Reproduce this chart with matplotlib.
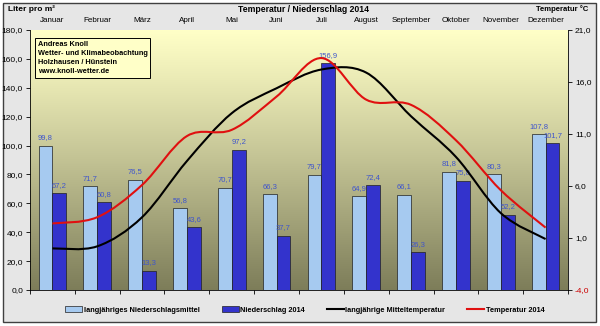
import numpy as np
import matplotlib
matplotlib.use('Agg')
import matplotlib.pyplot as plt
from matplotlib.path import Path
from matplotlib.patches import PathPatch, Rectangle, Patch
from matplotlib.lines import Line2D
from matplotlib.ticker import FuncFormatter
import matplotlib.transforms as mtransforms

plt.rcParams['font.family'] = ['Liberation Sans', 'DejaVu Sans']

months = ["Januar", "Februar", "März", "April", "Mai", "Juni", "Juli",
          "August", "September", "Oktober", "November", "Dezember"]
rain_mean = [99.8, 71.7, 76.5, 56.8, 70.7, 66.3, 79.7, 64.9, 66.1, 81.8, 80.3, 107.8]
rain_2014 = [67.2, 60.8, 13.3, 43.6, 97.2, 37.7, 156.9, 72.4, 26.3, 75.8, 52.2, 101.7]
temp_mean = [0.0, 0.2, 3.0, 8.4, 13.0, 15.4, 17.2, 16.9, 12.7, 8.8, 3.4, 0.9]
temp_2014 = [2.4, 3.0, 6.1, 10.8, 11.4, 14.6, 18.3, 14.3, 13.8, 10.4, 5.6, 2.0]

light_blue = '#a6caf0'
dark_blue = '#3333cc'
label_blue = '#3f55cc'


def smooth_path(xs, ys):
    # excel-style smoothed line: catmull-rom segments as cubic beziers
    pts = np.column_stack([xs, ys]).astype(float)
    n = len(pts)
    verts = [pts[0]]
    codes = [Path.MOVETO]
    for i in range(n - 1):
        p0 = pts[i - 1] if i > 0 else pts[i]
        p1 = pts[i]
        p2 = pts[i + 1]
        p3 = pts[i + 2] if i + 2 < n else pts[i + 1]
        verts += [p1 + (p2 - p0) / 6, p2 - (p3 - p1) / 6, p2]
        codes += [Path.CURVE4] * 3
    return Path(verts, codes)


fig = plt.figure(figsize=(6, 3.26), dpi=100)
fig.patch.set_facecolor('white')
fig.patches.append(Rectangle((3 / 600, 4 / 326), 593 / 600, 319 / 326,
                             transform=fig.transFigure, facecolor='#e6e6e6',
                             edgecolor='#404040', linewidth=1.0, zorder=-10))

ax = fig.add_axes([30 / 600, 36 / 326, 538 / 600, 260 / 326])
ax.patch.set_visible(False)
x = np.arange(len(months))
ax.set_xlim(-0.5, 11.5)
ax.set_ylim(0, 180)

# plot area gradient, light yellow to olive
grad = np.linspace(0, 1, 256).reshape(-1, 1)
top = np.array([1.0, 1.0, 0.78])
bottom = np.array([0.49, 0.49, 0.35])
img = top + (bottom - top) * grad[..., None] ** 1.1
img = img.reshape(256, 1, 3)
ax.imshow(img, extent=[-0.5, 11.5, 0, 180], aspect='auto', zorder=0)

w = 0.31
ax.bar(x - w / 2, rain_mean, w, color=light_blue, edgecolor='#202020',
       linewidth=0.5, zorder=2)
ax.bar(x + w / 2, rain_2014, w, color=dark_blue, edgecolor='#202020',
       linewidth=0.5, zorder=2)
for xi, v in zip(x - w / 2, rain_mean):
    ax.text(xi, v + 3, f"{v:.1f}".replace('.', ','), ha='center', va='bottom',
            fontsize=5.5, color=label_blue, zorder=5)
for xi, v in zip(x + w / 2, rain_2014):
    ax.text(xi, v + 3, f"{v:.1f}".replace('.', ','), ha='center', va='bottom',
            fontsize=5.5, color=label_blue, zorder=5)

comma = FuncFormatter(lambda v, p: f"{v:.1f}".replace('.', ','))
ax.set_yticks(np.arange(0, 181, 20))
ax.yaxis.set_major_formatter(comma)
ax.set_xticks(np.arange(-0.5, 12, 1))
ax.set_xticklabels([])
ax.tick_params(axis='x', length=3, width=0.6, direction='out')
ax.tick_params(axis='y', length=3, width=0.6, labelsize=6, pad=2)
for s in ['top', 'right']:
    ax.spines[s].set_visible(False)
ax.spines['left'].set_linewidth(0.6)
ax.spines['bottom'].set_linewidth(0.6)

# month names above the plot area
trans = mtransforms.blended_transform_factory(ax.transData, ax.transAxes)
for xi, m in zip(x, months):
    ax.text(xi, 1.035, m, transform=trans, ha='center', va='center', fontsize=5.8)

ax2 = ax.twinx()
ax2.set_ylim(-4, 21)
ax2.set_yticks(np.arange(-4, 22, 5))
ax2.yaxis.set_major_formatter(comma)
ax2.tick_params(axis='y', length=3, width=0.6, labelsize=6, pad=2)
ax2.get_yticklabels()[0].set_color('#cc0000')
for s in ['top', 'left', 'bottom']:
    ax2.spines[s].set_visible(False)
ax2.spines['right'].set_linewidth(0.6)
ax2.add_patch(PathPatch(smooth_path(x, temp_mean), fill=False,
                        edgecolor='black', linewidth=1.5, zorder=3))
ax2.add_patch(PathPatch(smooth_path(x, temp_2014), fill=False,
                        edgecolor='#e01010', linewidth=1.5, zorder=3))

fig.text(8 / 600, 1 - 9 / 326, "Liter pro m²", fontsize=6, fontweight='bold',
         ha='left', va='center')
fig.text(303 / 600, 1 - 9 / 326, "Temperatur / Niederschlag 2014", fontsize=6.2,
         fontweight='bold', ha='center', va='center')
fig.text(588 / 600, 1 - 9 / 326, "Temperatur °C", fontsize=5.5, fontweight='bold',
         ha='right', va='center')

fig.text(38 / 600, 1 - 58 / 326,
         "Andreas Knoll\nWetter- und Klimabeobachtung\nHolzhausen / Hünstein\nwww.knoll-wetter.de",
         fontsize=5.3, fontweight='bold', ha='left', va='center', linespacing=1.4,
         bbox=dict(boxstyle='square,pad=0.35', facecolor='#ffffc8',
                   edgecolor='black', linewidth=0.7))

handles = [Patch(facecolor=light_blue, edgecolor='#202020', linewidth=0.5),
           Patch(facecolor=dark_blue, edgecolor='#202020', linewidth=0.5),
           Line2D([], [], color='black', linewidth=1.5),
           Line2D([], [], color='#e01010', linewidth=1.5)]
labels = ["langjähriges Niederschlagsmittel", "Niederschlag 2014",
          "langjährige Mitteltemperatur", "Temperatur 2014"]
fig.legend(handles, labels, loc='center', bbox_to_anchor=(305 / 600, 16 / 326),
           ncol=4, frameon=False, prop={'size': 5.3, 'weight': 'bold'},
           handlelength=2.3, handleheight=0.8, handletextpad=0.2,
           columnspacing=3.0)

fig.savefig('out.png', dpi=100)
